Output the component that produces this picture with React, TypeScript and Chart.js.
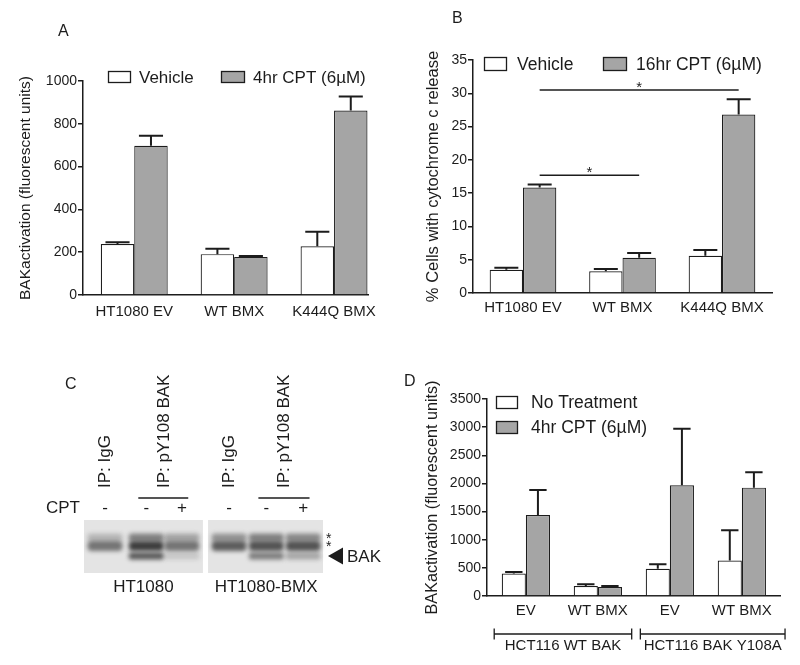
import React, { useEffect, useRef } from 'react';
import { Chart, registerables } from 'chart.js';

Chart.register(...registerables);

const FONT = "'Liberation Sans', Arial, Helvetica, sans-serif";
const INK = '#1c1c1c';
const FILL_OPEN = '#ffffff';
const FILL_GRAY = '#a5a5a5';

// ---------- Panel A ----------
const A_CATEGORIES = ['HT1080 EV', 'WT BMX', 'K444Q BMX'];
const A_SERIES = ['Vehicle', '4hr CPT (6µM)'];
const A_VEHICLE = [238, 191, 228];
const A_VEHICLE_ERR = [9, 25, 68];
const A_CPT = [697, 178, 862];
const A_CPT_ERR = [47, 4, 65];
const A_Y_MAX = 1000;
const A_Y_STEP = 200;
const A_Y_TITLE = 'BAKactivation (fluorescent units)';

// ---------- Panel B ----------
const B_CATEGORIES = ['HT1080 EV', 'WT BMX', 'K444Q BMX'];
const B_SERIES = ['Vehicle', '16hr CPT (6µM)'];
const B_VEHICLE = [3.5, 3.25, 5.6];
const B_VEHICLE_ERR = [0.3, 0.35, 0.85];
const B_CPT = [15.85, 5.3, 26.8];
const B_CPT_ERR = [0.45, 0.7, 2.3];
const B_Y_MAX = 35;
const B_Y_STEP = 5;
const B_Y_TITLE = '% Cells with cytochrome c release';
const B_SIG_FROM = [0, 0];
const B_SIG_TO = [2, 1];
const B_SIG_LEVEL = [30.5, 17.7];
const B_SIG_MARK = ['*', '*'];

// ---------- Panel D ----------
const D_CATEGORIES = ['EV', 'WT BMX', 'EV', 'WT BMX'];
const D_SERIES = ['No Treatment', '4hr CPT (6µM)'];
const D_NO_TREATMENT = [398, 178, 482, 630];
const D_NO_TREATMENT_ERR = [30, 30, 83, 540];
const D_CPT = [1438, 160, 1967, 1925];
const D_CPT_ERR = [446, 18, 1004, 273];
const D_Y_MAX = 3500;
const D_Y_STEP = 500;
const D_Y_TITLE = 'BAKactivation (fluorescent units)';
const D_GROUPS = ['HCT116 WT BAK', 'HCT116 BAK Y108A'];
const D_GROUP_START = [-0.44, 1.59];
const D_GROUP_END = [1.47, 3.6];

// ---------- Panel C (immunoblot) ----------
const C_LANE_X = [0, 1.04, 1.94, 3.13, 4.07, 5];
const C_CPT = ['-', '-', '+', '-', '-', '+'];
const C_IP_TEXT = ['IP: IgG', 'IP: pY108 BAK', 'IP: IgG', 'IP: pY108 BAK'];
const C_IP_FIRST = [0, 1, 3, 4];
const C_IP_LAST = [0, 2, 3, 5];
const C_CELL_TEXT = ['HT1080', 'HT1080-BMX'];
const C_CELL_FIRST = [0, 3];
const C_CELL_LAST = [2, 5];
const C_BLOT_FROM = [-0.53, 2.6];
const C_BLOT_TO = [2.47, 5.5];
const C_BAND_POS = [3.3, 4.9, 6.8];
const C_BAND_UPPER = [0.25, 0.55, 0.35, 0.45, 0.55, 0.5];
const C_BAND_MAIN = [0.62, 0.92, 0.62, 0.75, 0.8, 0.8];
const C_BAND_BAK = [0, 0.78, 0.16, 0, 0.58, 0.35];
const C_STAR_POS = [2.9, 4.4];
const C_ARROW_POS = 6.8;

type Area = { left: number; top: number; right: number; bottom: number };
type LegendSpot = { x: number; y: number; w: number; h: number; tx: number };
type BarSpec = {
  left: number; top: number; width: number; height: number;
  area: Area;
  categories: string[]; series: string[]; values: number[][]; errors: number[][];
  xMin: number; xMax: number; yMax: number; yStep: number;
  yTitle: string; yTitleSize: number; yTitleGap: number;
  tickSize: number; catSize: number; catGap: number;
  legend: LegendSpot[]; legendSize: number;
  extra?: any[];
};

function makeErrorBarPlugin(errors: number[][]) {
  return {
    id: 'errorBars',
    afterDatasetsDraw(chart: any) {
      const ctx = chart.ctx;
      const y = chart.scales.y;
      ctx.save();
      ctx.strokeStyle = INK;
      ctx.lineWidth = 2;
      chart.data.datasets.forEach((ds: any, di: number) => {
        const meta = chart.getDatasetMeta(di);
        meta.data.forEach((bar: any, i: number) => {
          const e = errors[di] ? errors[di][i] : undefined;
          if (e == null) return;
          const v = ds.data[i].y;
          const y0 = y.getPixelForValue(v);
          const y1 = y.getPixelForValue(v + e);
          const half = bar.width * 0.36;
          ctx.beginPath();
          ctx.moveTo(bar.x, y0);
          ctx.lineTo(bar.x, y1);
          ctx.moveTo(bar.x - half, y1);
          ctx.lineTo(bar.x + half, y1);
          ctx.stroke();
        });
      });
      ctx.restore();
    },
  };
}

function makeLegendPlugin(series: string[], spots: LegendSpot[], size: number, fills: string[]) {
  return {
    id: 'boxLegend',
    afterDraw(chart: any) {
      const ctx = chart.ctx;
      ctx.save();
      series.forEach((name, i) => {
        const s = spots[i];
        ctx.fillStyle = fills[i];
        ctx.fillRect(s.x, s.y, s.w, s.h);
        ctx.strokeStyle = INK;
        ctx.lineWidth = 1.3;
        ctx.strokeRect(s.x + 0.5, s.y + 0.5, s.w - 1, s.h - 1);
        ctx.fillStyle = INK;
        ctx.font = `${size}px ${FONT}`;
        ctx.textAlign = 'left';
        ctx.textBaseline = 'middle';
        ctx.fillText(name, s.tx, s.y + s.h / 2 + 1);
      });
      ctx.restore();
    },
  };
}

function makeSigPlugin(from: number[], to: number[], level: number[], mark: string[]) {
  return {
    id: 'sigLines',
    afterDraw(chart: any) {
      const ctx = chart.ctx;
      const meta = chart.getDatasetMeta(1);
      const y = chart.scales.y;
      ctx.save();
      ctx.strokeStyle = INK;
      ctx.fillStyle = INK;
      ctx.lineWidth = 1.5;
      from.forEach((f, i) => {
        const x0 = meta.data[f].x;
        const x1 = meta.data[to[i]].x;
        const py = y.getPixelForValue(level[i]);
        ctx.beginPath();
        ctx.moveTo(x0, py);
        ctx.lineTo(x1, py);
        ctx.stroke();
        ctx.font = `15px ${FONT}`;
        ctx.textAlign = 'center';
        ctx.textBaseline = 'alphabetic';
        ctx.fillText(mark[i], (x0 + x1) / 2, py + 2);
      });
      ctx.restore();
    },
  };
}

function makeBracketPlugin(labels: string[], start: number[], end: number[]) {
  return {
    id: 'groupBrackets',
    afterDraw(chart: any) {
      const ctx = chart.ctx;
      const x = chart.scales.x;
      const yLine = chart.chartArea.bottom + 38;
      ctx.save();
      ctx.strokeStyle = INK;
      ctx.fillStyle = INK;
      ctx.lineWidth = 1.3;
      labels.forEach((label, i) => {
        const x0 = x.getPixelForValue(start[i]);
        const x1 = x.getPixelForValue(end[i]);
        ctx.beginPath();
        ctx.moveTo(x0, yLine);
        ctx.lineTo(x1, yLine);
        ctx.moveTo(x0, yLine - 5.5);
        ctx.lineTo(x0, yLine + 5.5);
        ctx.moveTo(x1, yLine - 5.5);
        ctx.lineTo(x1, yLine + 5.5);
        ctx.stroke();
        ctx.font = `15px ${FONT}`;
        ctx.textAlign = 'center';
        ctx.textBaseline = 'middle';
        ctx.fillText(label, (x0 + x1) / 2, yLine + 12);
      });
      ctx.restore();
    },
  };
}

function buildBarConfig(spec: BarSpec) {
  const fills = [FILL_OPEN, FILL_GRAY];
  return {
    type: 'bar',
    data: {
      datasets: spec.series.map((name, si) => ({
        label: name,
        data: spec.values[si].map((v, i) => ({ x: i, y: v })),
        backgroundColor: fills[si],
        borderColor: INK,
        borderWidth: 1.2,
        borderSkipped: 'bottom',
        categoryPercentage: 0.67,
        barPercentage: 1,
      })),
    },
    options: {
      animation: false,
      responsive: false,
      maintainAspectRatio: false,
      events: [],
      layout: {
        padding: { left: 0, top: spec.area.top, right: spec.width - spec.area.right, bottom: 0 },
      },
      plugins: { legend: { display: false }, tooltip: { enabled: false } },
      scales: {
        x: {
          type: 'linear',
          min: spec.xMin,
          max: spec.xMax,
          offset: false,
          grid: { display: false, drawTicks: false },
          border: { display: true, color: INK, width: 1.5 },
          ticks: {
            stepSize: 1,
            includeBounds: false,
            autoSkip: false,
            maxRotation: 0,
            minRotation: 0,
            padding: spec.catGap,
            color: INK,
            font: { family: FONT, size: spec.catSize },
            callback: (v: any) => spec.categories[v] ?? '',
          },
          afterFit: (s: any) => { s.height = spec.height - spec.area.bottom; },
        },
        y: {
          min: 0,
          max: spec.yMax,
          ticks: {
            stepSize: spec.yStep,
            padding: 1,
            color: INK,
            font: { family: FONT, size: spec.tickSize },
            callback: (v: any) => String(v),
          },
          grid: { display: true, drawOnChartArea: false, drawTicks: true, tickLength: 5, color: INK, lineWidth: 1.5 },
          border: { display: true, color: INK, width: 1.5 },
          title: {
            display: true,
            text: spec.yTitle,
            color: INK,
            font: { family: FONT, size: spec.yTitleSize },
            padding: { top: spec.yTitleGap, bottom: 0 },
          },
          afterFit: (s: any) => { s.width = spec.area.left; },
        },
      },
    },
    plugins: [
      makeErrorBarPlugin(spec.errors),
      makeLegendPlugin(spec.series, spec.legend, spec.legendSize, fills),
      ...(spec.extra || []),
    ],
  };
}

function BarPanel({ spec }: { spec: BarSpec }) {
  const ref = useRef<HTMLCanvasElement>(null);
  useEffect(() => {
    const canvas = ref.current;
    if (!canvas) return;
    const chart = new Chart(canvas, buildBarConfig(spec) as any);
    return () => chart.destroy();
  }, [spec]);
  return (
    <canvas
      ref={ref}
      width={spec.width}
      height={spec.height}
      style={{ position: 'absolute', left: spec.left, top: spec.top, width: spec.width, height: spec.height }}
    />
  );
}

const A_SPEC: BarSpec = {
  left: 0, top: 0, width: 400, height: 330,
  area: { left: 83, top: 81, right: 368, bottom: 295 },
  categories: A_CATEGORIES, series: A_SERIES,
  values: [A_VEHICLE, A_CPT], errors: [A_VEHICLE_ERR, A_CPT_ERR],
  xMin: -0.513, xMax: 2.34, yMax: A_Y_MAX, yStep: A_Y_STEP,
  yTitle: A_Y_TITLE, yTitleSize: 15.5, yTitleGap: 16.7,
  tickSize: 14, catSize: 15, catGap: 8,
  legend: [
    { x: 108, y: 71, w: 23, h: 12, tx: 139 },
    { x: 221, y: 71, w: 24, h: 12, tx: 253 },
  ],
  legendSize: 17,
};

const B_SPEC: BarSpec = {
  left: 400, top: 0, width: 400, height: 330,
  area: { left: 73, top: 60, right: 372, bottom: 293 },
  categories: B_CATEGORIES, series: B_SERIES,
  values: [B_VEHICLE, B_CPT], errors: [B_VEHICLE_ERR, B_CPT_ERR],
  xMin: -0.5025, xMax: 2.5025, yMax: B_Y_MAX, yStep: B_Y_STEP,
  yTitle: B_Y_TITLE, yTitleSize: 16.5, yTitleGap: 23.1,
  tickSize: 14, catSize: 15, catGap: 6,
  legend: [
    { x: 84, y: 57, w: 23, h: 14, tx: 117 },
    { x: 203, y: 57, w: 24, h: 14, tx: 236 },
  ],
  legendSize: 17.5,
  extra: [makeSigPlugin(B_SIG_FROM, B_SIG_TO, B_SIG_LEVEL, B_SIG_MARK)],
};

const D_SPEC: BarSpec = {
  left: 400, top: 330, width: 400, height: 335,
  area: { left: 87, top: 69, right: 380, bottom: 266 },
  categories: D_CATEGORIES, series: D_SERIES,
  values: [D_NO_TREATMENT, D_CPT], errors: [D_NO_TREATMENT_ERR, D_CPT_ERR],
  xMin: -0.54, xMax: 3.53, yMax: D_Y_MAX, yStep: D_Y_STEP,
  yTitle: D_Y_TITLE, yTitleSize: 16.2, yTitleGap: 23.3,
  tickSize: 14, catSize: 15, catGap: 6,
  legend: [
    { x: 96, y: 66, w: 22, h: 13, tx: 131 },
    { x: 96, y: 91, w: 22, h: 13, tx: 131 },
  ],
  legendSize: 17.5,
  extra: [makeBracketPlugin(D_GROUPS, D_GROUP_START, D_GROUP_END)],
};

// ---------- Blot panel ----------
const blotPlugin = {
  id: 'blot',
  beforeDatasetsDraw(chart: any) {
    const ctx = chart.ctx;
    const x = chart.scales.x;
    const y = chart.scales.y;
    const area = chart.chartArea;
    ctx.save();
    C_BLOT_FROM.forEach((f, i) => {
      const x0 = x.getPixelForValue(f);
      const x1 = x.getPixelForValue(C_BLOT_TO[i]);
      ctx.fillStyle = '#e4e4e4';
      ctx.fillRect(x0, area.top, x1 - x0, area.bottom - area.top);
    });
    const unit = x.getPixelForValue(1) - x.getPixelForValue(0);
    chart.data.datasets.forEach((ds: any) => {
      ds.data.forEach((pt: any, i: number) => {
        const a = ds.intensity[i];
        if (!a) return;
        const cx = x.getPixelForValue(pt.x);
        const cy = y.getPixelForValue(pt.y);
        const w = unit * 0.88;
        const h = ds.thickness;
        ctx.save();
        ctx.filter = 'blur(2.2px)';
        ctx.fillStyle = `rgba(48,48,48,${a})`;
        ctx.beginPath();
        if ((ctx as any).roundRect) {
          (ctx as any).roundRect(cx - w / 2, cy - h / 2, w, h, h / 2.5);
        } else {
          ctx.rect(cx - w / 2, cy - h / 2, w, h);
        }
        ctx.fill();
        ctx.restore();
      });
    });
    ctx.restore();
  },
  afterDraw(chart: any) {
    const ctx = chart.ctx;
    const x = chart.scales.x;
    const y = chart.scales.y;
    const area = chart.chartArea;
    ctx.save();
    ctx.fillStyle = INK;
    ctx.strokeStyle = INK;
    ctx.font = `17px ${FONT}`;
    C_IP_TEXT.forEach((t, i) => {
      const x0 = x.getPixelForValue(C_LANE_X[C_IP_FIRST[i]]);
      const x1 = x.getPixelForValue(C_LANE_X[C_IP_LAST[i]]);
      const cx = (x0 + x1) / 2;
      ctx.save();
      ctx.translate(cx, area.top - 32);
      ctx.rotate(-Math.PI / 2);
      ctx.textAlign = 'left';
      ctx.textBaseline = 'middle';
      ctx.fillText(t, 0, 0);
      ctx.restore();
      if (C_IP_FIRST[i] !== C_IP_LAST[i]) {
        const unit = x.getPixelForValue(1) - x.getPixelForValue(0);
        ctx.lineWidth = 1.3;
        ctx.beginPath();
        ctx.moveTo(x0 - unit * 0.2, area.top - 22);
        ctx.lineTo(x1 + unit * 0.16, area.top - 22);
        ctx.stroke();
      }
    });
    ctx.textBaseline = 'middle';
    ctx.textAlign = 'right';
    ctx.fillText('CPT', area.left - 4, area.top - 12);
    ctx.textAlign = 'center';
    C_CPT.forEach((s, i) => {
      ctx.fillText(s, x.getPixelForValue(C_LANE_X[i]), area.top - 12);
    });
    C_CELL_TEXT.forEach((t, i) => {
      const x0 = x.getPixelForValue(C_LANE_X[C_CELL_FIRST[i]]);
      const x1 = x.getPixelForValue(C_LANE_X[C_CELL_LAST[i]]);
      ctx.fillText(t, (x0 + x1) / 2, area.bottom + 14);
    });
    ctx.font = `14px ${FONT}`;
    ctx.textAlign = 'left';
    ctx.textBaseline = 'alphabetic';
    C_STAR_POS.forEach((p) => {
      ctx.fillText('*', area.right + 3, y.getPixelForValue(p) + 8);
    });
    const ay = y.getPixelForValue(C_ARROW_POS);
    const ax = area.right + 5;
    ctx.beginPath();
    ctx.moveTo(ax, ay);
    ctx.lineTo(ax + 15, ay - 8.5);
    ctx.lineTo(ax + 15, ay + 8.5);
    ctx.closePath();
    ctx.fill();
    ctx.font = `17px ${FONT}`;
    ctx.textBaseline = 'middle';
    ctx.fillText('BAK', ax + 19, ay + 1);
    ctx.restore();
  },
};

function BlotPanel() {
  const ref = useRef<HTMLCanvasElement>(null);
  useEffect(() => {
    const canvas = ref.current;
    if (!canvas) return;
    const rows = [C_BAND_UPPER, C_BAND_MAIN, C_BAND_BAK];
    const thickness = [8, 10, 7];
    const chart = new Chart(canvas, {
      type: 'scatter',
      data: {
        datasets: rows.map((row, r) => ({
          label: `band ${r}`,
          data: C_LANE_X.map((lx) => ({ x: lx, y: C_BAND_POS[r] })),
          intensity: row,
          thickness: thickness[r],
          pointRadius: 0,
        })) as any,
      },
      options: {
        animation: false,
        responsive: false,
        maintainAspectRatio: false,
        events: [],
        layout: { padding: { left: 84, top: 190, right: 77, bottom: 92 } },
        plugins: { legend: { display: false }, tooltip: { enabled: false } },
        scales: {
          x: { type: 'linear', min: -0.53, max: 5.5, display: false },
          y: { type: 'linear', min: 0, max: 10, reverse: true, display: false },
        },
      },
      plugins: [blotPlugin],
    } as any);
    return () => chart.destroy();
  }, []);
  return (
    <canvas
      ref={ref}
      width={400}
      height={335}
      style={{ position: 'absolute', left: 0, top: 330, width: 400, height: 335 }}
    />
  );
}

function PanelLetter({ text, x, y }: { text: string; x: number; y: number }) {
  return (
    <div
      style={{
        position: 'absolute', left: x, top: y, fontFamily: FONT, fontSize: 16,
        lineHeight: '16px', color: INK,
      }}
    >
      {text}
    </div>
  );
}

export default function App() {
  return (
    <div style={{ position: 'absolute', left: 0, top: 0, width: 800, height: 665, background: '#ffffff', overflow: 'hidden' }}>
      <BarPanel spec={A_SPEC} />
      <BarPanel spec={B_SPEC} />
      <BlotPanel />
      <BarPanel spec={D_SPEC} />
      <PanelLetter text="A" x={58} y={23} />
      <PanelLetter text="B" x={452} y={10} />
      <PanelLetter text="C" x={65} y={376} />
      <PanelLetter text="D" x={404} y={373} />
    </div>
  );
}
